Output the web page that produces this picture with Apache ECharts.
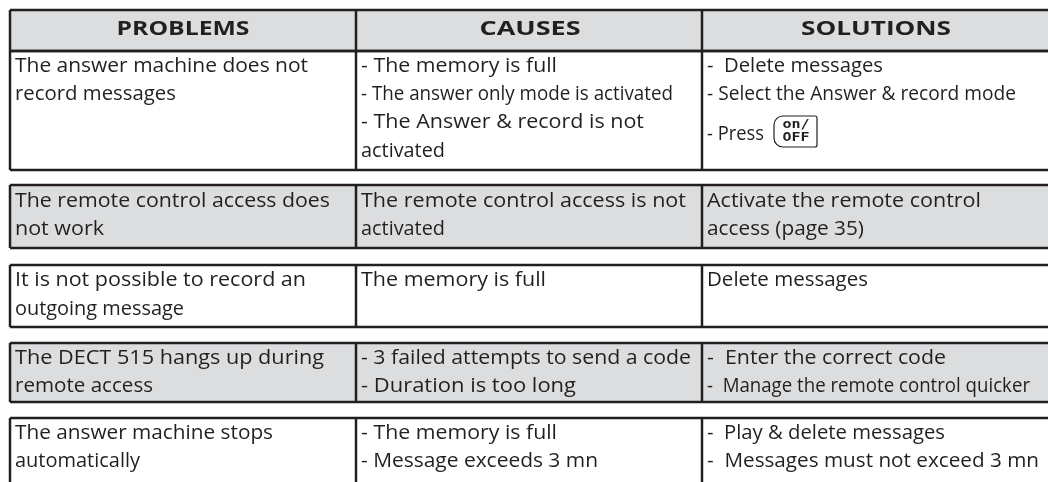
<!DOCTYPE html>
<html>
<head>
<meta charset="utf-8">
<style>html,body{margin:0;padding:0;background:#fff}#main{width:1048px;height:482px}</style>
<script src="https://cdn.jsdelivr.net/npm/echarts@6/dist/echarts.min.js"></script>
</head>
<body>
<div id="main"></div>
<script>
// table text
const headers = ['PROBLEMS', 'CAUSES', 'SOLUTIONS'];
const problems = [
    ['The answer machine does not', 'record messages'],
    ['The remote control access does', 'not work'],
    ['It is not possible to record an', 'outgoing message'],
    ['The DECT 515 hangs up during', 'remote access'],
    ['The answer machine stops', 'automatically']
];
const causes = [
    ['- The memory is full', '- The answer only mode is activated', '- The Answer & record is not', 'activated'],
    ['The remote control access is not', 'activated'],
    ['The memory is full'],
    ['- 3 failed attempts to send a code', '- Duration is too long'],
    ['- The memory is full', '- Message exceeds 3 mn']
];
const solutions = [
    ['-  Delete messages', '- Select the Answer & record mode', '- Press'],
    ['Activate the remote control', 'access (page 35)'],
    ['Delete messages'],
    ['-  Enter the correct code', '-  Manage the remote control quicker'],
    ['-  Play & delete messages', '-  Messages must not exceed 3 mn']
];
const buttonLabel = ['on/', 'OFF'];

// layout of the sheet, in pixels
const colLines = [10, 356, 702];
const colText = [15, 361, 707];
const headerCenter = [183, 530, 876];
const headerWidth = [133, 101, 150];
const headerBox = [10, 51];
const rowBoxes = [[51, 170], [185, 248], [265, 327], [343, 402], [418, 490]];
const rowFill = ['#fff', '#dcddde', '#fff', '#dcddde', '#fff'];
const baselines = [
    [72, 100, 128, 157],
    [207, 235],
    [286, 315],
    [364, 392],
    [439, 467]
];
const pressBaseline = 140;
// right end of every text line
const rightEnds = [
    [[308, 176], [557, 673, 644, 445], [883, 1016, 764]],
    [[330, 104], [686, 445], [981, 864]],
    [[306, 184], [546], [868]],
    [[324, 153], [691, 576], [946, 1030]],
    [[273, 140], [557, 598], [945, 1039]]
];

const ink = '#231f20';
const bodyFont = '20px "Open Sans"';
const headFont = 'bold 20px "Open Sans"';
const measure = document.createElement('canvas').getContext('2d');

function textEl(str, x, baseline, font, width) {
    measure.font = font;
    return {
        type: 'text',
        x: x,
        y: baseline - 6,
        scaleX: width / measure.measureText(str).width,
        silent: true,
        style: { text: str, x: 0, y: 0, font: font, fill: ink, verticalAlign: 'middle' }
    };
}

function lineEl(x1, y1, x2, y2, width) {
    return {
        type: 'line',
        silent: true,
        shape: { x1: x1, y1: y1, x2: x2, y2: y2 },
        style: { stroke: ink, lineWidth: width }
    };
}

let els = [];

function addBox(top, bottom, fill) {
    els.push({
        type: 'rect',
        silent: true,
        shape: { x: colLines[0], y: top, width: 1048 - colLines[0], height: bottom - top },
        style: { fill: fill }
    });
}

// header and row fills first
addBox(headerBox[0], headerBox[1], '#dcddde');
rowBoxes.forEach((b, i) => addBox(b[0], b[1], rowFill[i]));

// borders
[headerBox].concat(rowBoxes).forEach(b => {
    els.push(lineEl(colLines[0], b[0], 1048, b[0], 2.5));
    els.push(lineEl(colLines[0], b[1], 1048, b[1], 2.5));
    colLines.forEach(x => els.push(lineEl(x, b[0], x, b[1], 2.5)));
});

headers.forEach((h, i) => {
    let el = textEl(h, headerCenter[i], 35, headFont, headerWidth[i]);
    el.style.align = 'center';
    els.push(el);
});

[problems, causes, solutions].forEach((col, c) => {
    col.forEach((row, r) => {
        row.forEach((str, l) => {
            let base = baselines[r][l];
            if (c === 2 && r === 0 && l === 2) base = pressBaseline;
            els.push(textEl(str, colText[c], base, bodyFont, rightEnds[r][c][l] - colText[c]));
        });
    });
});

// the on/off key
els.push({
    type: 'rect',
    silent: true,
    shape: { x: 774, y: 116, width: 43, height: 31, r: [9, 2, 2, 9] },
    style: { fill: 'none', stroke: ink, lineWidth: 1.2 }
});
buttonLabel.forEach((s, i) => {
    els.push({
        type: 'text',
        silent: true,
        x: 796,
        y: 125 + i * 13,
        scaleX: 1.25,
        style: { text: s, font: 'bold 12px "DejaVu Sans Mono"', fill: ink, align: 'center', verticalAlign: 'middle' }
    });
});

let myChart = echarts.init(document.getElementById('main'));
myChart.setOption({
    animation: false,
    backgroundColor: '#fff',
    graphic: { elements: els }
});
</script>
</body>
</html>
